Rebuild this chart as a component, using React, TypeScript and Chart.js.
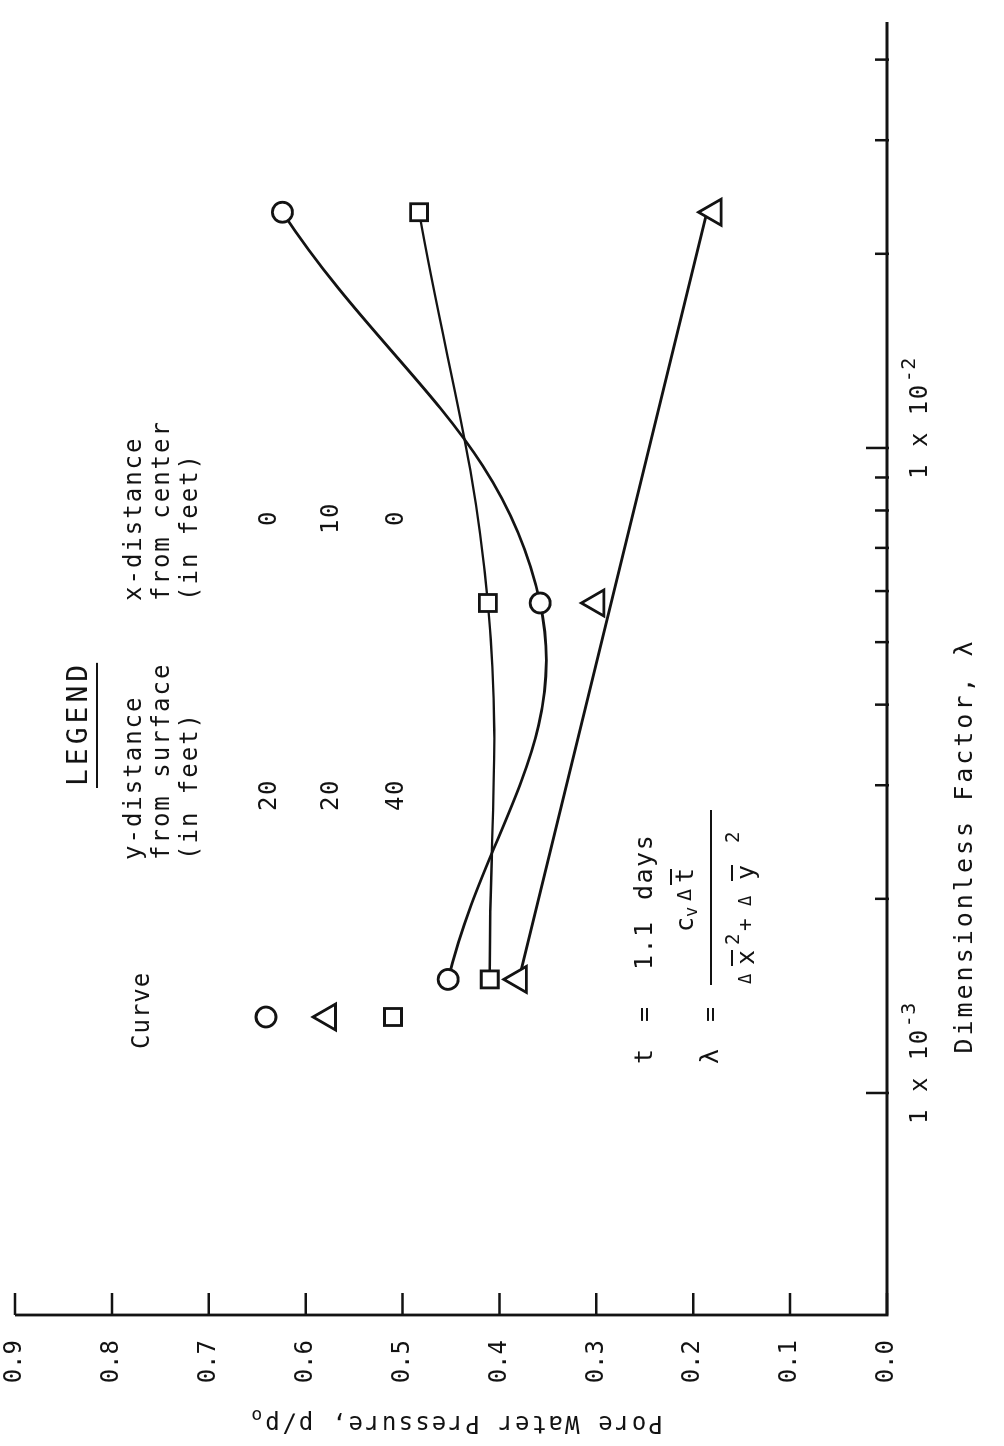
import React, { useEffect, useRef } from "react";
import { Chart, registerables } from "chart.js";

Chart.register(...registerables);

// ---- data ----
const lambdaValues = [1.5e-3, 5.75e-3, 2.32e-2];
const circleP = [0.453, 0.358, 0.624];
const squareP = [0.41, 0.412, 0.483];
const triangleP = [0.38, 0.3, 0.179];
const triangleFitLambda = [1.5e-3, 2.32e-2];
const triangleFitP = [0.38, 0.186];

const pTickValues = [0, 0.1, 0.2, 0.3, 0.4, 0.5, 0.6, 0.7, 0.8, 0.9];
const pTickLabels = ["0.0", "0.1", "0.2", "0.3", "0.4", "0.5", "0.6", "0.7", "0.8", "0.9"];
const lambdaTickValues = [1e-3, 2e-3, 3e-3, 4e-3, 5e-3, 6e-3, 7e-3, 8e-3, 9e-3, 1e-2, 2e-2, 3e-2, 4e-2];
const lambdaTickBase = ["1 x 10", "", "", "", "", "", "", "", "", "1 x 10", "", "", ""];
const lambdaTickExp = ["-3", "", "", "", "", "", "", "", "", "-2", "", "", ""];
const lambdaMin = 4.527e-4;
const lambdaMax = 0.04575;

const legendCurves = ["circle", "triangle", "rect"];
const legendYDist = ["20", "20", "40"];
const legendXDist = ["0", "10", "0"];

// ---- layout ----
const W = 1446;
const H = 1004;
const INK = "#131313";
const MONO = '"DejaVu Sans Mono", monospace';

function pts(xs: number[], ys: number[]) {
  return xs.map((x, i) => ({ x, y: ys[i] }));
}

function drawMarker(ctx: CanvasRenderingContext2D, style: string, x: number, y: number) {
  ctx.save();
  ctx.lineWidth = 2.8;
  ctx.strokeStyle = INK;
  ctx.fillStyle = "#fff";
  ctx.beginPath();
  if (style === "circle") {
    ctx.arc(x, y, 10, 0, Math.PI * 2);
  } else if (style === "rect") {
    ctx.rect(x - 8.5, y - 8.5, 17, 17);
  } else {
    const r = 15;
    ctx.moveTo(x, y - r);
    ctx.lineTo(x + r * Math.sin(Math.PI / 3), y + r / 2);
    ctx.lineTo(x - r * Math.sin(Math.PI / 3), y + r / 2);
    ctx.closePath();
  }
  ctx.fill();
  ctx.stroke();
  ctx.restore();
}

function txt(
  ctx: CanvasRenderingContext2D,
  s: string,
  u: number,
  v: number,
  size: number,
  align: CanvasTextAlign = "left",
  spacing = 1.5
) {
  ctx.font = `${size}px ${MONO}`;
  (ctx as any).letterSpacing = `${spacing}px`;
  ctx.textAlign = align;
  ctx.textBaseline = "middle";
  ctx.fillStyle = INK;
  ctx.fillText(s, u, v);
  return ctx.measureText(s).width;
}

const decorations = {
  id: "decorations",
  afterDraw(chart: any) {
    const ctx: CanvasRenderingContext2D = chart.ctx;
    const xs = chart.scales.x;
    const ys = chart.scales.y;
    const { left, right, top, bottom } = chart.chartArea;
    ctx.save();
    ctx.strokeStyle = INK;
    ctx.lineCap = "butt";
    // axes
    ctx.lineWidth = 2.8;
    ctx.beginPath();
    ctx.moveTo(left, top);
    ctx.lineTo(left, bottom);
    ctx.lineTo(right, bottom);
    ctx.stroke();
    // p ticks (inward)
    ctx.lineWidth = 2.5;
    ctx.beginPath();
    pTickValues.forEach((v) => {
      const y = ys.getPixelForValue(v);
      ctx.moveTo(left, y);
      ctx.lineTo(left + 22, y);
    });
    ctx.stroke();
    // lambda ticks (inward) and their labels
    ctx.beginPath();
    lambdaTickValues.forEach((v, i) => {
      const x = xs.getPixelForValue(v);
      const len = lambdaTickBase[i] ? 21 : 12;
      ctx.moveTo(x, bottom + 2);
      ctx.lineTo(x, bottom - len);
    });
    ctx.stroke();
    lambdaTickValues.forEach((v, i) => {
      if (!lambdaTickBase[i]) return;
      const x = xs.getPixelForValue(v);
      const w = txt(ctx, lambdaTickBase[i], x - 31, bottom + 34, 24, "left", 1.5);
      txt(ctx, lambdaTickExp[i], x - 31 + w + 1, bottom + 23, 20, "left", 0.5);
    });

    // axis titles
    ctx.save();
    ctx.translate(24, 455);
    ctx.rotate(-Math.PI / 2);
    const tw = txt(ctx, "Pore Water Pressure, p/p", -8, 0, 24, "center", 2.2);
    txt(ctx, "o", -8 + tw / 2 + 1, 7, 18, "left", 0);
    ctx.restore();
    txt(ctx, "Dimensionless Factor, λ", 600, 965, 25, "center", 3);

    // legend block
    const lw = txt(ctx, "LEGEND", 660, 80, 28, "left", 4);
    ctx.lineWidth = 2.2;
    ctx.beginPath();
    ctx.moveTo(658, 97);
    ctx.lineTo(660 + lw - 2, 97);
    ctx.stroke();
    txt(ctx, "Curve", 397, 143, 24, "left", 1);
    txt(ctx, "y-distance", 586, 135, 24, "left", 2);
    txt(ctx, "from surface", 586, 163, 24, "left", 2);
    txt(ctx, "(in feet)", 586, 191, 24, "left", 2);
    txt(ctx, "x-distance", 845, 135, 24, "left", 2);
    txt(ctx, "from center", 845, 163, 24, "left", 2);
    txt(ctx, "(in feet)", 845, 191, 24, "left", 2);
    const rowsV = [266, 328, 393];
    legendCurves.forEach((s, i) => drawMarker(ctx, s, 429, rowsV[i]));
    legendYDist.forEach((s, i) => txt(ctx, s, 651, rowsV[i] + 4, 24, "center"));
    legendXDist.forEach((s, i) => txt(ctx, s, 928, rowsV[i] + 4, 24, "center"));

    // t = 1.1 days
    txt(ctx, "t", 382, 645, 25);
    txt(ctx, "=", 424, 645, 25);
    txt(ctx, "1.1", 476, 645, 25);
    txt(ctx, "days", 546, 645, 25);
    // lambda = fraction
    txt(ctx, "λ", 382, 711, 25);
    txt(ctx, "=", 424, 711, 25);
    ctx.lineWidth = 2.2;
    ctx.beginPath();
    ctx.moveTo(461, 711);
    ctx.lineTo(636, 711);
    ctx.stroke();
    // numerator c_v Δ t-bar
    txt(ctx, "c", 514, 686, 25, "left", 0);
    txt(ctx, "v", 529, 693, 17, "left", 0);
    txt(ctx, "Δ", 545, 686, 20, "left", 0);
    txt(ctx, "t", 563, 686, 25, "left", 0);
    ctx.lineWidth = 2;
    ctx.beginPath();
    ctx.moveTo(561, 671);
    ctx.lineTo(577, 671);
    ctx.stroke();
    // denominator Δx̄² + Δȳ²
    txt(ctx, "Δ", 462, 747, 17, "left", 0);
    txt(ctx, "x", 481, 747, 25, "left", 0);
    txt(ctx, "2", 501, 734, 19, "left", 0);
    txt(ctx, "+", 515, 747, 21, "left", 0);
    txt(ctx, "Δ", 540, 747, 17, "left", 0);
    txt(ctx, "y", 566, 747, 25, "left", 0);
    txt(ctx, "2", 603, 734, 19, "left", 0);
    ctx.lineWidth = 2;
    ctx.beginPath();
    ctx.moveTo(480, 732);
    ctx.lineTo(496, 732);
    ctx.moveTo(565, 732);
    ctx.lineTo(581, 732);
    ctx.stroke();
    ctx.restore();
  },
};

export default function App() {
  const ref = useRef<HTMLCanvasElement | null>(null);
  useEffect(() => {
    document.body.style.margin = "0";
    const canvas = ref.current!;
    const chart = new Chart(canvas, {
      type: "line",
      data: {
        datasets: [
          {
            label: "triangle",
            data: pts(lambdaValues, triangleP),
            showLine: false,
            pointStyle: "triangle",
            pointRadius: 15,
            pointBorderWidth: 2.8,
            pointBorderColor: INK,
            pointBackgroundColor: "#fff",
          },
          {
            label: "circle",
            data: pts(lambdaValues, circleP),
            borderColor: INK,
            borderWidth: 2.8,
            tension: 0.4,
            pointStyle: "circle",
            pointRadius: 10,
            pointBorderWidth: 2.8,
            pointBorderColor: INK,
            pointBackgroundColor: "#fff",
          },
          {
            label: "square",
            data: pts(lambdaValues, squareP),
            borderColor: INK,
            borderWidth: 2.3,
            tension: 0.4,
            pointStyle: "rect",
            pointRadius: 12,
            pointBorderWidth: 2.8,
            pointBorderColor: INK,
            pointBackgroundColor: "#fff",
          },
          {
            label: "triangle fit",
            data: pts(triangleFitLambda, triangleFitP),
            borderColor: INK,
            borderWidth: 2.8,
            pointRadius: 0,
            tension: 0,
          },
        ],
      },
      options: {
        responsive: false,
        animation: false,
        devicePixelRatio: 1,
        layout: { autoPadding: false, padding: { top: 15, right: 22, left: 0, bottom: 0 } },
        plugins: { legend: { display: false }, tooltip: { enabled: false } },
        scales: {
          x: {
            type: "logarithmic",
            min: lambdaMin,
            max: lambdaMax,
            afterFit: (s: any) => {
              s.height = H - 887;
              s.paddingLeft = 0;
              s.paddingRight = 0;
              s.paddingTop = 0;
              s.paddingBottom = 0;
            },
            afterBuildTicks: (s: any) => {
              s.ticks = lambdaTickValues.map((value) => ({ value }));
            },
            grid: { display: false, drawTicks: false },
            border: { display: false },
            ticks: { display: false, autoSkip: false, maxRotation: 0, minRotation: 0 },
          },
          y: {
            type: "linear",
            min: 0,
            max: 0.9,
            afterFit: (s: any) => {
              s.width = 131;
              s.paddingTop = 0;
              s.paddingBottom = 0;
              s.paddingLeft = 0;
              s.paddingRight = 0;
            },
            afterBuildTicks: (s: any) => {
              s.ticks = pTickValues.map((value) => ({ value }));
            },
            grid: { display: false, drawTicks: false },
            border: { display: false },
            ticks: {
              padding: 25,
              color: INK,
              font: { family: "DejaVu Sans Mono", size: 24 },
              callback: (_v: any, i: number) => pTickLabels[i],
            },
          },
        },
      },
      plugins: [decorations],
    });
    return () => chart.destroy();
  }, []);

  return (
    <div style={{ position: "fixed", left: 0, top: 0, width: 1004, height: 1446, overflow: "hidden", background: "#fff" }}>
      <div
        style={{
          position: "absolute",
          left: 0,
          top: 0,
          width: W,
          height: H,
          transformOrigin: "0 0",
          transform: `translateY(${W}px) rotate(-90deg)`,
        }}
      >
        <canvas ref={ref} width={W} height={H} style={{ width: W, height: H, display: "block" }} />
      </div>
    </div>
  );
}
